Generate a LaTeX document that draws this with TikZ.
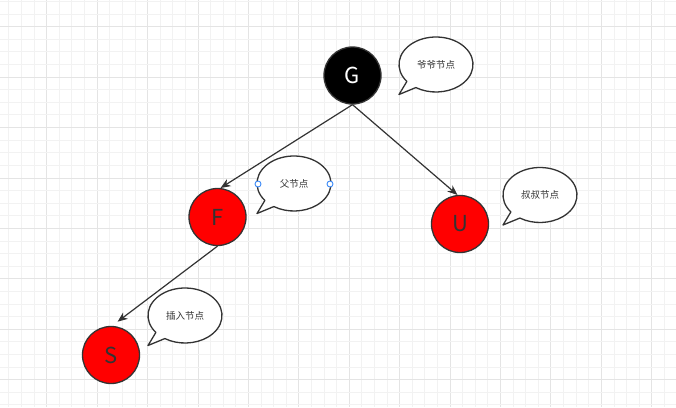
\documentclass[tikz,border=0pt]{standalone}
\usepackage{fontspec}
\setmainfont{Noto Sans CJK SC}
\usetikzlibrary{arrows.meta,calc}
\definecolor{ink}{HTML}{333333}
\definecolor{gridminor}{HTML}{F2F2F2}
\definecolor{gridmajor}{HTML}{E4E4E4}
\definecolor{handle}{HTML}{3D8AF7}
\tikzset{
  rbnode/.style={circle,draw=ink,line width=1.3pt,minimum size=57pt,inner sep=0pt,font=\fontsize{22}{22}\selectfont},
  rednode/.style={rbnode,fill=red,text=ink},
  blacknode/.style={rbnode,fill=black,text=white},
  edge/.style={draw=ink,line width=1.2pt,-{Stealth[length=10pt,width=8pt,inset=3pt]}},
  bubble/.style={draw=ink,line width=1.3pt,fill=white,line join=round},
  btext/.style={font=\fontsize{9.5}{10}\selectfont,text=ink},
  handlept/.style={circle,draw=handle,fill=white,line width=0.9pt,minimum size=6pt,inner sep=0pt}
}
\newcommand{\callout}[3]{% name, center, text
  \coordinate (#1c) at #2;
  \coordinate (#1t) at ($(#1c)+(-37,30)$);
  \draw[bubble] ($(#1c)+(142:37 and 27.5)$) arc[start angle=142,end angle=483,x radius=37,y radius=27.5] -- (#1t) -- cycle;
  \node[btext] (#1) at (#1c) {#3};
}
\begin{document}
\begin{tikzpicture}[x=1pt,y=-1pt]
\useasboundingbox (0,0) rectangle (676,407);
\fill[white] (0,0) rectangle (676,407);
% grid
\foreach \i in {0,...,53} {
  \pgfmathsetmacro{\xx}{8.9+12.605*\i}
  \pgfmathtruncatemacro{\mm}{mod(\i,4)}
  \ifnum\mm=3 \draw[gridmajor,line width=0.9pt] (\xx,0) -- (\xx,407);
  \else \draw[gridminor,line width=0.9pt] (\xx,0) -- (\xx,407); \fi
}
\foreach \j in {0,...,32} {
  \pgfmathsetmacro{\yy}{1.5+12.605*\j}
  \pgfmathtruncatemacro{\mm}{mod(\j,4)}
  \ifnum\mm=2 \draw[gridmajor,line width=0.9pt] (0,\yy) -- (676,\yy);
  \else \draw[gridminor,line width=0.9pt] (0,\yy) -- (676,\yy); \fi
}
% nodes
\node[blacknode] (G) at (352.5,75.5) {G};
\node[rednode] (F) at (217.5,217) {F};
\node[rednode] (U) at (460,224) {U};
\node[rednode] (S) at (111,355) {S};
% edges
\draw[edge] (G.south) -- (F.84);
\draw[edge] (G.south) -- (U.95);
\draw[edge,shorten >=7pt] (F.south) -- (S.88);
% callouts
\callout{bg}{(436,64.5)}{爷爷节点}
\callout{bf}{(294,183.5)}{父节点}
\callout{bu}{(540,195)}{叔叔节点}
\callout{bs}{(185,315.5)}{插入节点}
\node[handlept] (h1) at (258,184) {};
\node[handlept] (h2) at (330,184) {};
\end{tikzpicture}
\end{document}
